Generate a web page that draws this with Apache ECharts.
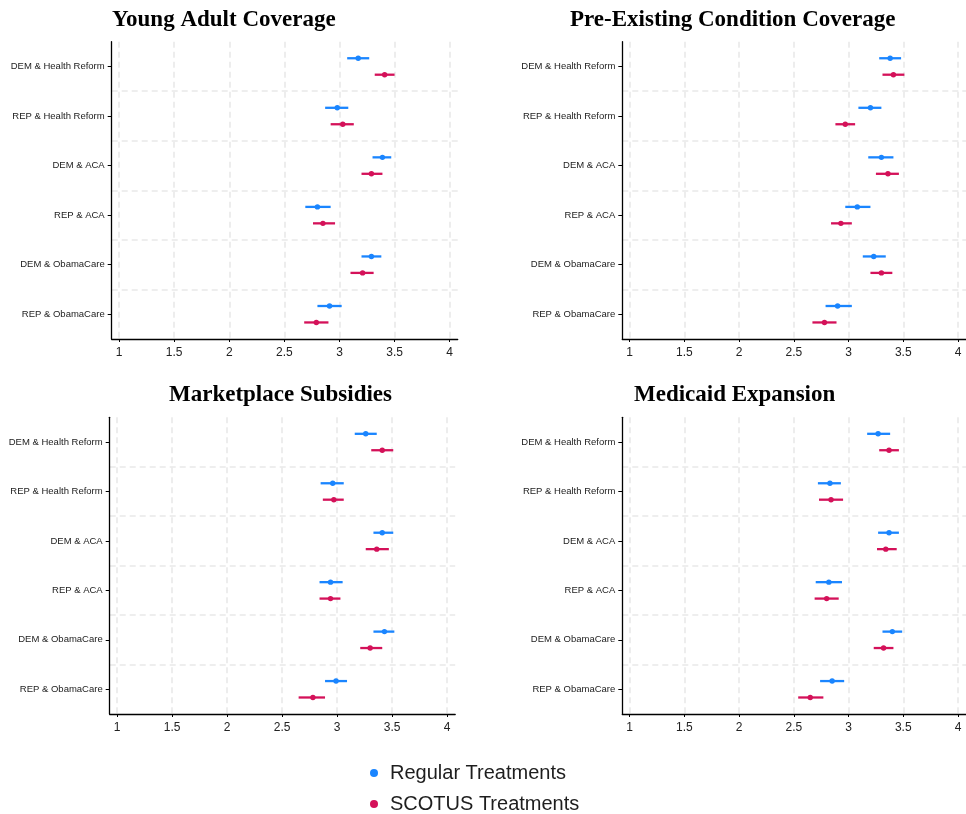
<!DOCTYPE html>
<html>
<head>
<meta charset="utf-8">
<title>Treatment effects by party and policy label</title>
<script src="https://cdn.jsdelivr.net/npm/echarts@6/dist/echarts.min.js"></script>
<style>
  html, body { margin: 0; padding: 0; background: #ffffff; }
  #chart { width: 966px; height: 814px; }
</style>
</head>
<body>
<div id="chart"></div>
<script>
// Row labels, top to bottom
const categories = [
  'DEM & Health Reform',
  'REP & Health Reform',
  'DEM & ACA',
  'REP & ACA',
  'DEM & ObamaCare',
  'REP & ObamaCare'
];

const xTicks = [1, 1.5, 2, 2.5, 3, 3.5, 4];

const panelTitles = [
  'Young Adult Coverage',
  'Pre-Existing Condition Coverage',
  'Marketplace Subsidies',
  'Medicaid Expansion'
];

const seriesNames = ['Regular Treatments', 'SCOTUS Treatments'];

// Each row: [lower bound, estimate, upper bound]
const youngRegular = [[3.07, 3.17, 3.27], [2.87, 2.98, 3.08], [3.30, 3.39, 3.47], [2.69, 2.80, 2.92], [3.20, 3.29, 3.38], [2.80, 2.91, 3.02]];
const youngScotus  = [[3.32, 3.41, 3.50], [2.92, 3.03, 3.13], [3.20, 3.29, 3.39], [2.76, 2.85, 2.96], [3.10, 3.21, 3.31], [2.68, 2.79, 2.90]];

const preexRegular = [[3.28, 3.38, 3.48], [3.09, 3.20, 3.30], [3.18, 3.30, 3.41], [2.97, 3.08, 3.20], [3.13, 3.23, 3.34], [2.79, 2.90, 3.03]];
const preexScotus  = [[3.31, 3.41, 3.51], [2.88, 2.97, 3.06], [3.25, 3.36, 3.46], [2.84, 2.93, 3.03], [3.20, 3.30, 3.40], [2.67, 2.78, 2.89]];

const marketRegular = [[3.16, 3.26, 3.36], [2.85, 2.96, 3.06], [3.33, 3.41, 3.51], [2.84, 2.94, 3.05], [3.33, 3.43, 3.52], [2.89, 2.99, 3.09]];
const marketScotus  = [[3.31, 3.41, 3.51], [2.87, 2.97, 3.06], [3.26, 3.36, 3.47], [2.84, 2.94, 3.03], [3.21, 3.30, 3.41], [2.65, 2.78, 2.89]];

const medicaidRegular = [[3.17, 3.27, 3.38], [2.72, 2.83, 2.93], [3.27, 3.37, 3.46], [2.70, 2.82, 2.94], [3.31, 3.40, 3.49], [2.74, 2.85, 2.96]];
const medicaidScotus  = [[3.28, 3.37, 3.46], [2.73, 2.84, 2.95], [3.26, 3.34, 3.44], [2.69, 2.80, 2.91], [3.23, 3.32, 3.41], [2.54, 2.65, 2.77]];

const panelData = [
  [youngRegular, youngScotus],
  [preexRegular, preexScotus],
  [marketRegular, marketScotus],
  [medicaidRegular, medicaidScotus]
];

const colors = ['#1A85FF', '#D41159'];

// Plot-area placement of the four panels
const grids = [
  { left: 111.7, top: 41.7, width: 346, height: 297.3 },
  { left: 622.3, top: 41.7, width: 346, height: 297.3 },
  { left: 109.7, top: 417.3, width: 345.5, height: 296.7 },
  { left: 622.3, top: 417.3, width: 346, height: 296.7 }
];

const titlePos = [
  { left: 112, top: 9 },
  { left: 570, top: 9 },
  { left: 169, top: 384 },
  { left: 634, top: 384 }
];

const gridLine = { type: [6, 4], color: '#e9e9e9', width: 1.6 };
const axisBlack = { color: '#000000', width: 1.3 };

function intervalSeries(name, rows, panel, color, side) {
  return {
    type: 'custom',
    name: name,
    xAxisIndex: panel,
    yAxisIndex: panel,
    itemStyle: { color: color },
    encode: { x: [0, 1, 2], y: 3 },
    data: rows.map((r, i) => [r[0], r[1], r[2], i]),
    renderItem: function (params, api) {
      const row = api.value(3);
      const band = api.size([0, 1])[1];
      const dy = side * band * 0.166;
      const lo = api.coord([api.value(0), row]);
      const est = api.coord([api.value(1), row]);
      const hi = api.coord([api.value(2), row]);
      return {
        type: 'group',
        children: [
          {
            type: 'line',
            shape: { x1: lo[0], y1: lo[1] + dy, x2: hi[0], y2: hi[1] + dy },
            style: { stroke: color, lineWidth: 2.3 }
          },
          {
            type: 'circle',
            shape: { cx: est[0], cy: est[1] + dy, r: 2.7 },
            style: { fill: color }
          }
        ]
      };
    }
  };
}

const xAxes = grids.map((g, i) => ({
  gridIndex: i,
  type: 'value',
  min: 0.933,
  max: 4.073,
  axisLine: { show: true, onZero: false, lineStyle: axisBlack },
  axisTick: { show: true, length: 3, customValues: xTicks, lineStyle: { color: '#000', width: 1 } },
  axisLabel: {
    customValues: xTicks,
    fontSize: 12,
    fontFamily: 'Liberation Sans, Arial, sans-serif',
    color: '#222222',
    margin: 8,
    formatter: v => String(v)
  },
  splitLine: { show: true, lineStyle: gridLine }
}));

const yAxes = grids.map((g, i) => ({
  gridIndex: i,
  type: 'category',
  inverse: true,
  data: categories,
  axisLine: { show: true, lineStyle: axisBlack },
  axisTick: { show: true, alignWithLabel: true, length: 4, lineStyle: { color: '#000', width: 1 } },
  axisLabel: {
    fontSize: 9.5,
    fontFamily: 'Liberation Sans, Arial, sans-serif',
    color: '#222222',
    margin: 7
  },
  splitLine: { show: true, showMinLine: false, showMaxLine: false, lineStyle: gridLine }
}));

const series = [];
panelData.forEach((pair, p) => {
  series.push(intervalSeries(seriesNames[0], pair[0], p, colors[0], -1));
  series.push(intervalSeries(seriesNames[1], pair[1], p, colors[1], 1));
});

// One legend entry per row, stacked under the panels
const legendTops = [758, 789];
const legends = seriesNames.map((n, i) => ({
  left: 365,
  top: legendTops[i],
  icon: 'circle',
  itemWidth: 8,
  itemHeight: 8,
  selectedMode: false,
  data: [n],
  textStyle: {
    fontSize: 20,
    fontFamily: 'Liberation Sans, Arial, sans-serif',
    color: '#1e1e1e',
    padding: [0, 0, 0, 7]
  }
}));

const option = {
  backgroundColor: '#ffffff',
  animation: false,
  title: panelTitles.map((t, i) => ({
    text: t,
    left: titlePos[i].left,
    top: titlePos[i].top,
    padding: 0,
    textStyle: {
      fontFamily: 'Liberation Serif, Times New Roman, serif',
      fontWeight: 'bold',
      fontSize: 23,
      color: '#000000'
    }
  })),
  legend: legends,
  grid: grids.map(g => Object.assign({ containLabel: false }, g)),
  xAxis: xAxes,
  yAxis: yAxes,
  series: series
};

const chart = echarts.init(document.getElementById('chart'), null, { renderer: 'canvas' });
chart.setOption(option);
</script>
</body>
</html>
